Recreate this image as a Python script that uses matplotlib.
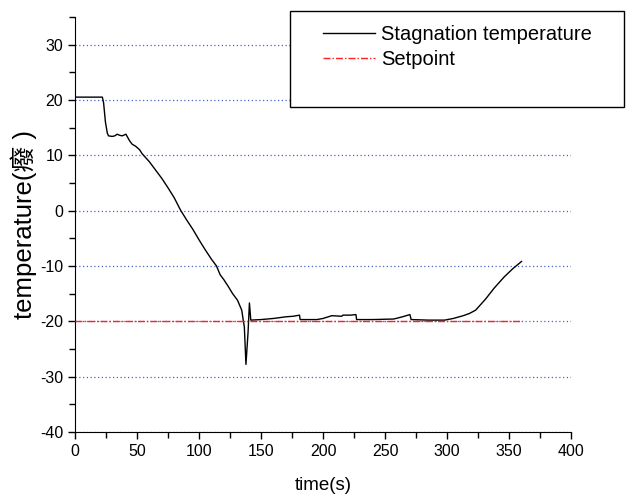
import numpy as np
import matplotlib
matplotlib.use("Agg")
import matplotlib.pyplot as plt
from matplotlib.ticker import MultipleLocator
from matplotlib.patches import Rectangle

plt.rcParams['font.family'] = ['Liberation Sans', 'Noto Sans CJK SC', 'DejaVu Sans']
plt.rcParams['axes.unicode_minus'] = False

# stagnation temperature
time_s = [0, 22, 23, 24.5, 26, 27, 30, 32, 34, 36, 38, 40, 41, 42, 44, 46, 49, 52, 54, 56,
          60, 65, 70, 75, 80, 85, 90, 95, 100, 105, 110, 114, 117, 120, 123.5, 127, 131,
          134.4, 135.6, 136.5, 137.8, 139.5, 140.6, 141.7, 150, 160, 170, 176, 181,
          181.5, 195, 200, 207, 215, 216, 222, 226.5, 227, 240, 257, 264, 270, 271,
          285, 298, 305, 313, 318, 323, 331, 338, 346, 353, 360]
stag_temp = [20.5, 20.5, 19.5, 16.0, 14.0, 13.5, 13.4, 13.5, 13.8, 13.6, 13.5, 13.7, 13.8,
             13.4, 12.6, 12.0, 11.6, 11.0, 10.3, 9.8, 8.8, 7.3, 5.8, 4.1, 2.3, 0.1, -1.7,
             -3.4, -5.3, -7.1, -8.8, -10.0, -11.6, -12.5, -13.7, -15.0, -16.2, -18.0, -19.8,
             -21.0, -27.8, -22.0, -16.7, -19.8, -19.7, -19.5, -19.2, -19.1, -18.9, -19.7,
             -19.7, -19.5, -19.0, -19.1, -18.9, -18.9, -18.8, -19.7, -19.7, -19.6, -19.2,
             -18.8, -19.7, -19.8, -19.8, -19.5, -19.0, -18.6, -18.0, -16.0, -14.0, -12.0,
             -10.5, -9.2]

setpoint_t = [0, 360]
setpoint_v = [-20, -20]

fig = plt.figure(figsize=(6.36, 4.97), dpi=100)
ax = fig.add_axes([0.118, 0.131, 0.780, 0.835])

ax.set_xlim(0, 400)
ax.set_ylim(-40, 35)
ax.xaxis.set_major_locator(MultipleLocator(50))
ax.xaxis.set_minor_locator(MultipleLocator(25))
ax.yaxis.set_major_locator(MultipleLocator(10))
ax.yaxis.set_minor_locator(MultipleLocator(5))
ax.tick_params(which='major', direction='out', length=5, width=1, labelsize=11.5)
ax.tick_params(which='minor', direction='out', length=4, width=1)

ax.spines['top'].set_visible(False)
ax.spines['right'].set_visible(False)

ax.yaxis.grid(True, which='major', linestyle=(0, (1, 2)), color='#4a64c8', linewidth=0.9)
ax.set_axisbelow(True)

ax.plot(time_s, stag_temp, color='black', linewidth=1.0, label='Stagnation temperature')
ax.plot(setpoint_t, setpoint_v, color='#ff2020', linewidth=1.0, linestyle=(0, (5, 1.5, 1, 1.5)),
        label='Setpoint', zorder=3)

ax.set_xlabel('time(s)', fontsize=13.5, labelpad=13)
ax.set_ylabel('temperature(癈 )', fontsize=18.5, labelpad=2)

# the legend box is taller than its entries, so draw it on its own
box = Rectangle((290 / 636, 1 - 107 / 497), 334 / 636, 96 / 497, transform=fig.transFigure,
                facecolor='white', edgecolor='black', linewidth=1.0, zorder=10, clip_on=False)
ax.add_patch(box)
leg = fig.legend(loc='upper left', bbox_to_anchor=(323 / 636, 1 - 25 / 497),
                 fontsize=14.5, frameon=False, borderaxespad=0, borderpad=0,
                 handlelength=2.6, handletextpad=0.3, labelspacing=0.3)

fig.savefig('out.png', dpi=100)
